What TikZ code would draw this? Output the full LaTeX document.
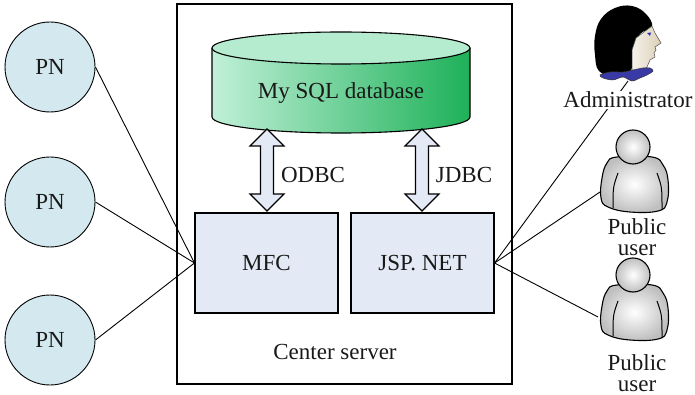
\documentclass[tikz,border=0pt]{standalone}
\usepackage{fontspec}
\setmainfont{Liberation Serif}
\newfontfamily\diagfont{Liberation Serif}
\definecolor{pnfill}{HTML}{D3E8EF}
\definecolor{boxfill}{HTML}{E3EAF6}
\definecolor{dbtop}{HTML}{B5ECD0}
\definecolor{dbleft}{HTML}{C0F0D8}
\definecolor{dbmid}{HTML}{98E0B5}
\definecolor{dbright}{HTML}{1EB158}
\definecolor{collar}{HTML}{3A3AA6}
\definecolor{skinlight}{HTML}{F6F2EA}
\definecolor{skindark}{HTML}{DCCFB6}
\begin{document}
\begin{tikzpicture}[x=1pt,y=-1pt,
  every node/.style={font=\diagfont\fontsize{23}{21}\selectfont, text=black!90},
  pn/.style={circle, draw, line width=0.9pt, fill=pnfill, minimum size=90pt, inner sep=0pt},
  appbox/.style={draw, line width=1.1pt, fill=boxfill, minimum width=143pt, minimum height=100pt, inner sep=0pt},
  link/.style={line width=0.9pt},
  label/.style={inner sep=0.5pt, fill=white, align=center},
  pics/dblarrow/.style={code={
    \filldraw[line width=1.1pt, fill=boxfill, line join=miter]
      (0,-41) -- (17,-24) -- (6.5,-24) -- (6.5,24) -- (17,24) -- (0,41)
      -- (-17,24) -- (-6.5,24) -- (-6.5,-24) -- (-17,-24) -- cycle;
  }},
  pics/publicuser/.style={code={
    \shade[inner color=white, outer color=black!25, draw=black, line width=1.1pt]
      plot[smooth cycle, tension=0.7] coordinates {(-26,16) (-31,31) (-32,51) (-25,60)
        (-3,65) (25,64) (34,55) (35,33) (30,18) (19,10) (-16,10)};
    \draw[line width=1pt] (-15,26) .. controls (-20,40) .. (-20,61);
    \draw[line width=1pt] (24,26) .. controls (29,40) .. (29,63);
    \shade[inner color=white, outer color=black!25, draw=black, line width=1.1pt]
      (0,0) circle[radius=17];
  }},
]
\useasboundingbox (0,0) rectangle (695,395);

% central server frame
\node[draw, line width=1.2pt, minimum width=335pt, minimum height=380pt, inner sep=0pt] (server) at (344.5,194) {};
\node (srvlabel) at (335,352) {Center server};

% database cylinder
\shade[left color=dbleft, middle color=dbmid, right color=dbright]
  (212,48) -- (212,117) arc[start angle=180, end angle=0, x radius=129, y radius=16] -- (470,48) -- cycle;
\draw[line width=1.1pt]
  (212,48) -- (212,117) arc[start angle=180, end angle=0, x radius=129, y radius=16] -- (470,48);
\filldraw[fill=dbtop, line width=1.1pt] (341,48) ellipse[x radius=129, y radius=16];
\node (db) at (341,93) {My SQL database};

% application boxes
\node[appbox] (mfc) at (266.5,263) {MFC};
\node[appbox] (jsp) at (422.5,263) {JSP. NET};

% database connectors
\pic at (267,170) {dblarrow};
\pic at (422,170) {dblarrow};
\node (odbc) at (313,175) {ODBC};
\node (jdbc) at (464,175) {JDBC};

% process nodes
\node[pn] (pn1) at (50,67) {PN};
\node[pn] (pn2) at (50,202) {PN};
\node[pn] (pn3) at (50,340) {PN};
\draw[link] (pn1.east) -- (mfc.west);
\draw[link] (pn2.east) -- (mfc.west);
\draw[link] (pn3.east) -- (mfc.west);

% client ends
\coordinate (admin) at (628,81);
\coordinate (user1) at (600,192);
\coordinate (user2) at (598,317);
\draw[link] (jsp.east) -- (admin);
\draw[link] (jsp.east) -- (user1);
\draw[link] (jsp.east) -- (user2);

% administrator
\fill[black] plot[smooth cycle, tension=0.7] coordinates {(652,27) (646,14) (632,6) (615,8)
  (601,19) (595,36) (595,55) (599,71) (614,76) (630,72) (634,50) (640,34)};
\shade[left color=skinlight, right color=skindark, draw=black!70, line width=0.5pt]
  (652,26) -- (655,33) -- (661,43) -- (655,47) -- (656,50) -- (654,53) -- (655,57)
  -- (650,60) -- (647,67) -- (643,70) -- (632,72) -- (632,50) -- (636,38) -- cycle;
\fill[collar!80!blue] (647,33) -- (651,32.5) -- (650,36) -- cycle;
\filldraw[fill=collar, draw=black!80, line width=0.5pt]
  plot[smooth cycle, tension=0.5] coordinates {(600,75) (610,72) (623,72) (633,70) (643,68)
  (650,68) (653,71) (647,75) (640,78) (632,81) (623,77) (613,80) (603,78)};
\node[label] (adminlabel) at (628,100) {Administrator};

% public users
\pic at (633,147) {publicuser};
\pic at (633,275) {publicuser};
\node[label] (user1label) at (637,237) {Public\\user};
\node[label] (user2label) at (637,373) {Public\\user};
\end{tikzpicture}
\end{document}
